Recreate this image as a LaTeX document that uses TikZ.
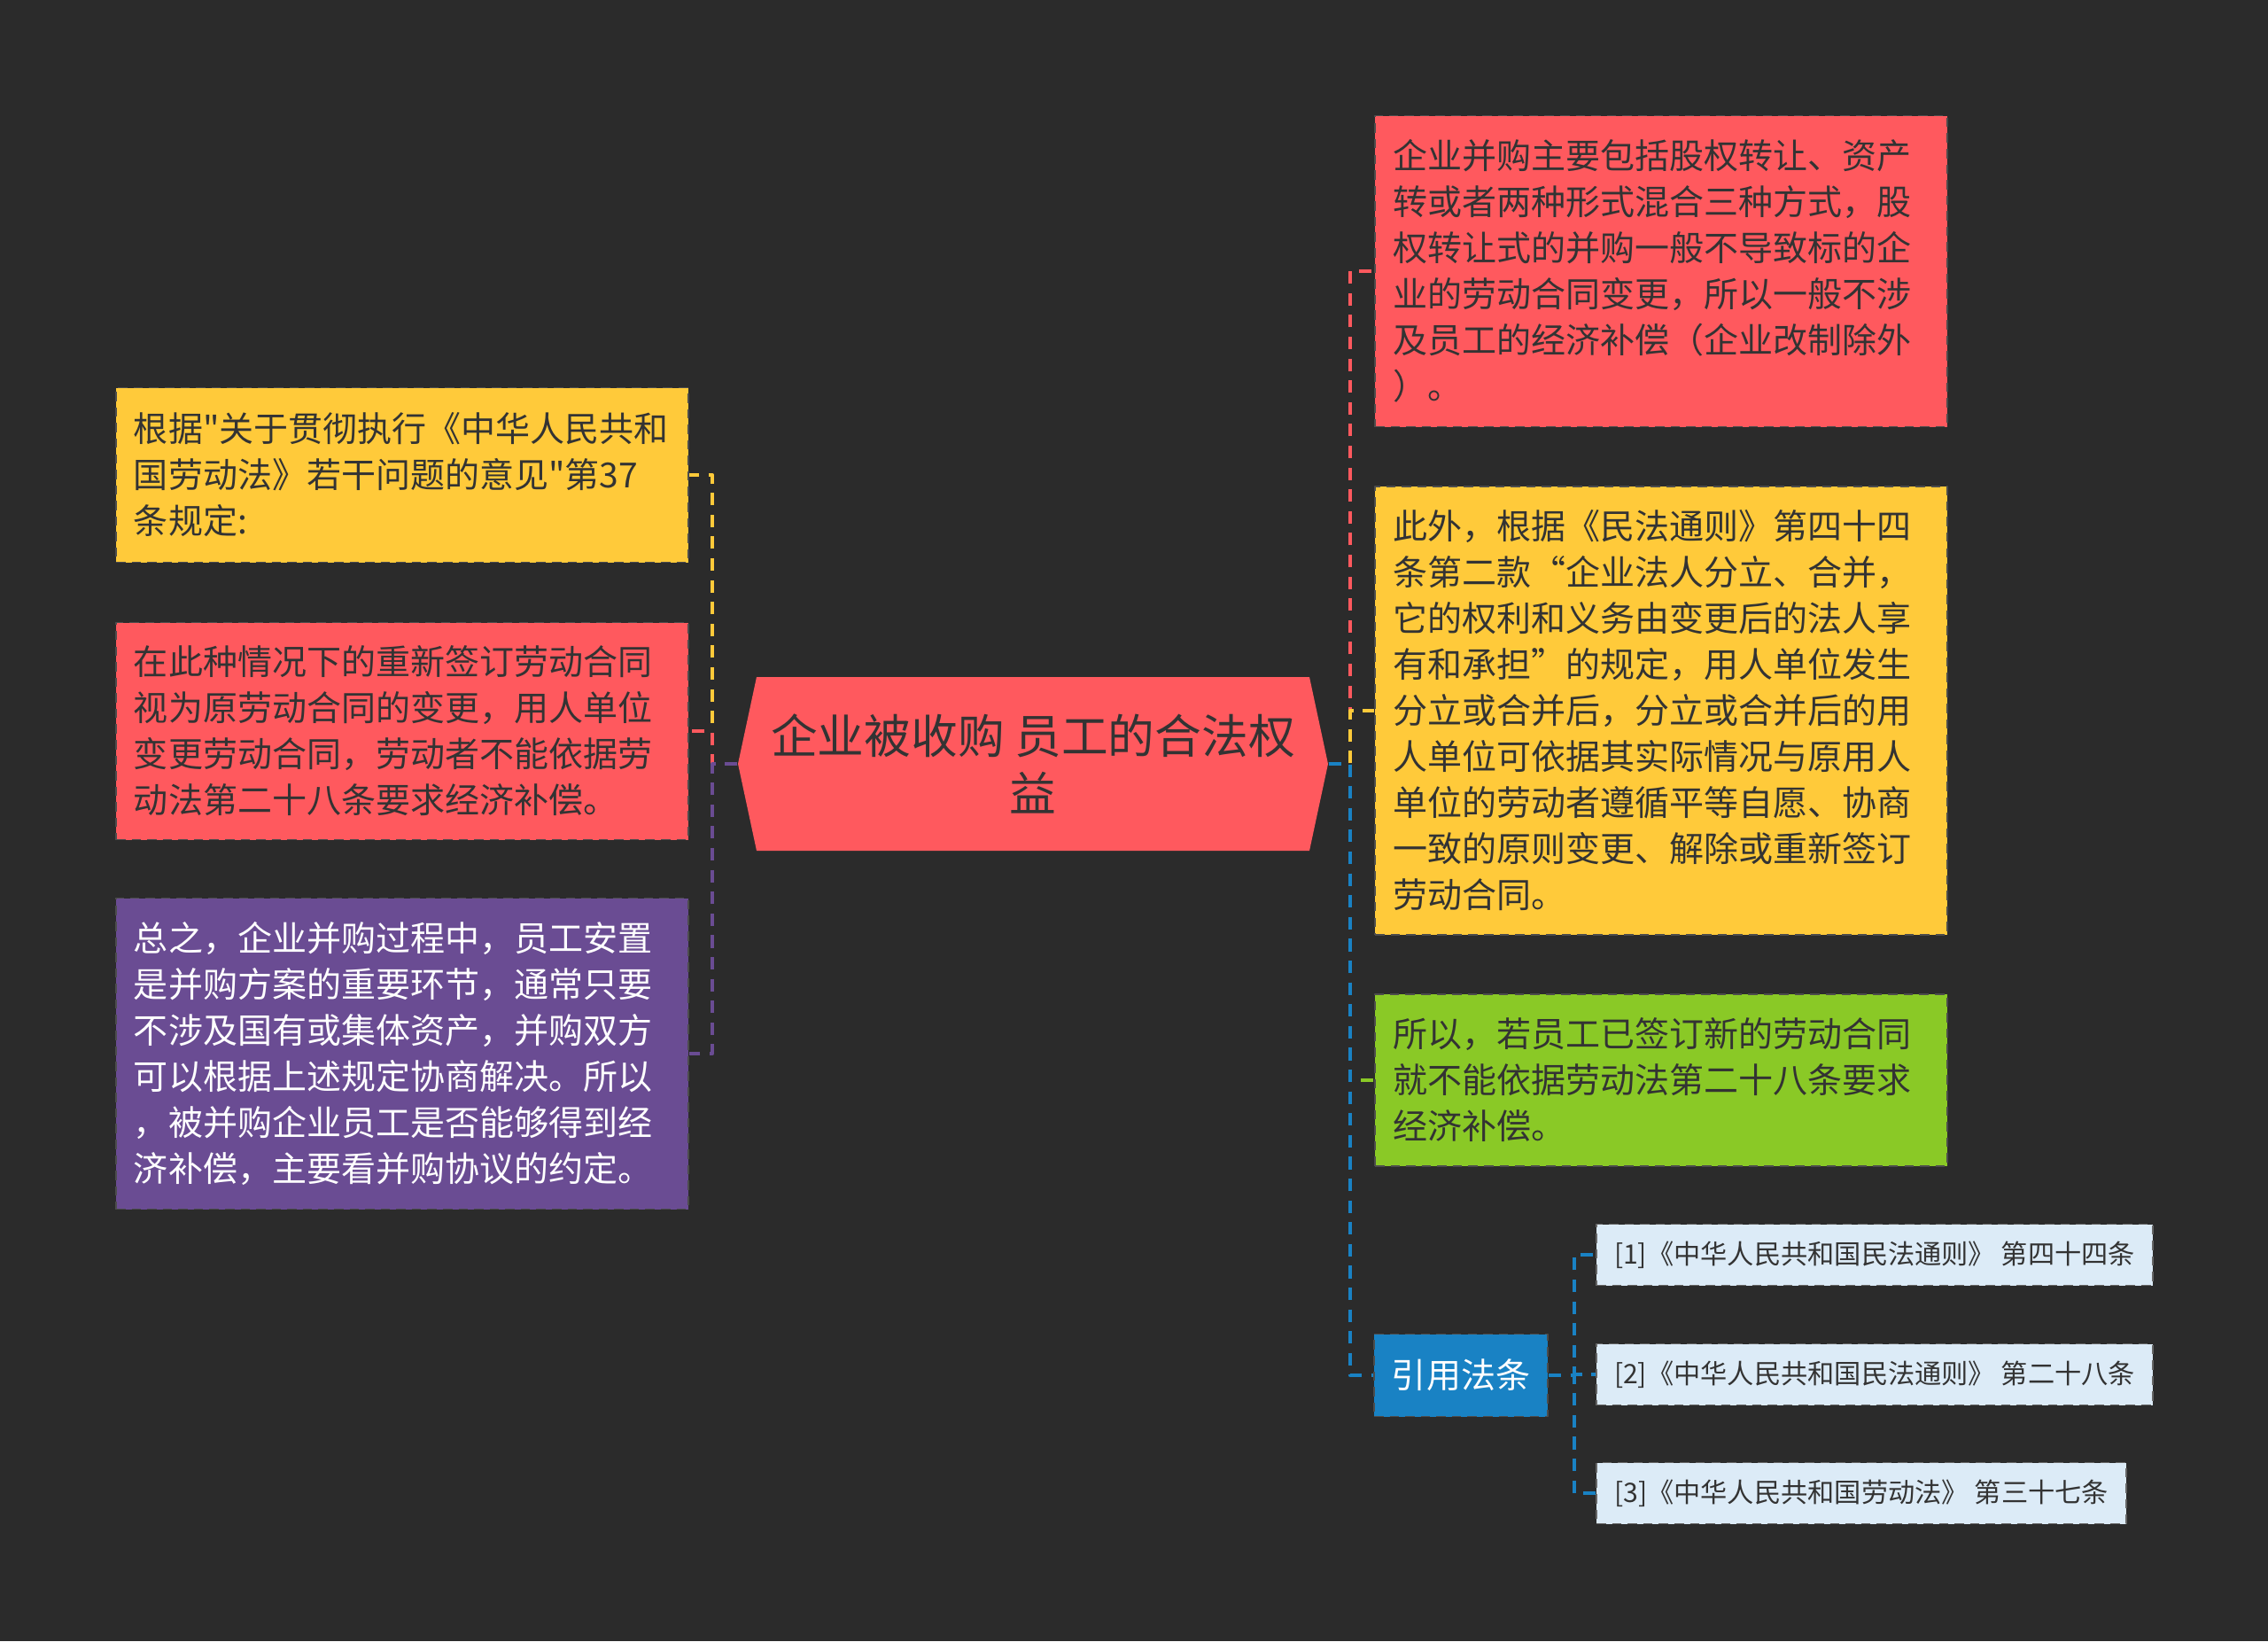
\documentclass[tikz,border=0pt]{standalone}
\usepackage{fontspec}
\setmainfont{Noto Sans CJK SC}[Ligatures=TeXOff]
\definecolor{bgc}{HTML}{2B2B2B}
\definecolor{cRed}{HTML}{FF595E}
\definecolor{cYellow}{HTML}{FFCA3A}
\definecolor{cGreen}{HTML}{8AC926}
\definecolor{cBlue}{HTML}{1982C4}
\definecolor{cPurple}{HTML}{6A4C93}
\definecolor{cPale}{HTML}{DCEBF7}
\begin{document}
\begin{tikzpicture}[line join=round, font=\fontsize{11.1}{14.8}\selectfont,
	box/.style={rectangle, draw=black!70, dash pattern=on 3pt off 2pt, line width=0.5pt,
		text width=6.06cm, inner xsep=0.2cm, inner ysep=0pt, align=left, text=black!80},
	subbox/.style={rectangle, draw=black!60, dash pattern=on 3pt off 2pt, line width=0.5pt,
		fill=cPale, inner xsep=0.2cm, inner ysep=0pt, minimum height=0.69cm, text=black!80,
		font=\fontsize{8.6}{10}\selectfont},
	hexbox/.style={minimum width=6.66cm, minimum height=1.96cm, align=center, text=black!80,
		font=\fontsize{15}{18.6}\selectfont,
		path picture={\fill[cRed] (path picture bounding box.west)
			-- ([xshift=0.21cm]path picture bounding box.north west)
			-- ([xshift=-0.21cm]path picture bounding box.north east)
			-- (path picture bounding box.east)
			-- ([xshift=-0.21cm]path picture bounding box.south east)
			-- ([xshift=0.21cm]path picture bounding box.south west) -- cycle;}},
	link/.style={line width=1.1pt, dash pattern=on 4pt off 3pt}]
	\fill[bgc] (0,0) rectangle (25.6,-18.52);
	\useasboundingbox (0,0) rectangle (25.6,-18.52);
	% root
	\node[hexbox] (root) at (11.66,-8.62) {企业被收购 员工的合法权\\益};
	% left side
	\node[box, fill=cYellow, minimum height=1.97cm] (law37) at (4.54,-5.36)
		{根据"关于贯彻执行《中华人民共和\\国劳动法》若干问题的意见"第37\\条规定:};
	\node[box, fill=cRed, minimum height=2.45cm] (resign) at (4.54,-8.25)
		{在此种情况下的重新签订劳动合同\\视为原劳动合同的变更，用人单位\\变更劳动合同，劳动者不能依据劳\\动法第二十八条要求经济补偿。};
	\node[box, fill=cPurple, text=white, minimum height=3.51cm] (summary) at (4.54,-11.89)
		{总之，企业并购过程中，员工安置\\是并购方案的重要环节，通常只要\\不涉及国有或集体资产，并购双方\\可以根据上述规定协商解决。所以\\，被并购企业员工是否能够得到经\\济补偿，主要看并购协议的约定。};
	% right side
	\node[box, fill=cRed, minimum height=3.51cm] (merger) at (18.75,-3.06)
		{企业并购主要包括股权转让、资产\\转或者两种形式混合三种方式，股\\权转让式的并购一般不导致标的企\\业的劳动合同变更，所以一般不涉\\及员工的经济补偿（企业改制除外\\）。};
	\node[box, fill=cYellow, minimum height=5.06cm] (civil) at (18.75,-8.02)
		{此外，根据《民法通则》第四十四\\条第二款“企业法人分立、合并，\\它的权利和义务由变更后的法人享\\有和承担”的规定，用人单位发生\\分立或合并后，分立或合并后的用\\人单位可依据其实际情况与原用人\\单位的劳动者遵循平等自愿、协商\\一致的原则变更、解除或重新签订\\劳动合同。};
	\node[box, fill=cGreen, minimum height=1.94cm] (newcon) at (18.75,-12.19)
		{所以，若员工已签订新的劳动合同\\就不能依据劳动法第二十八条要求\\经济补偿。};
	\node[box, fill=cBlue, text=white, text width=, minimum width=1.96cm, minimum height=0.93cm, align=center]
		(cite) at (16.49,-15.52) {引用法条};
	% citations
	\node[subbox, minimum width=6.26cm] (cite1) at (21.16,-14.16) {[1]《中华人民共和国民法通则》 第四十四条};
	\node[subbox, minimum width=6.26cm] (cite2) at (21.16,-15.51) {[2]《中华人民共和国民法通则》 第二十八条};
	\node[subbox, minimum width=5.95cm] (cite3) at (21.01,-16.85) {[3]《中华人民共和国劳动法》 第三十七条};
	% links
	\draw[link, cYellow] (root.west) -- ++(-0.28,0) |- (law37.east);
	\draw[link, cRed] (root.west) -- ++(-0.28,0) |- (resign.east);
	\draw[link, cPurple] (root.west) -- ++(-0.28,0) |- (summary.east);
	\draw[link, cRed] (root.east) -- ++(0.24,0) |- (merger.west);
	\draw[link, cYellow] (root.east) -- ++(0.24,0) |- (civil.west);
	\draw[link, cGreen] (root.east) -- ++(0.24,0) |- (newcon.west);
	\draw[link, cBlue] (root.east) -- ++(0.24,0) |- (cite.west);
	\foreach \c in {cite1,cite2,cite3}
		\draw[link, cBlue] (cite.east) -- ++(0.29,0) |- (\c.west);
\end{tikzpicture}
\end{document}
